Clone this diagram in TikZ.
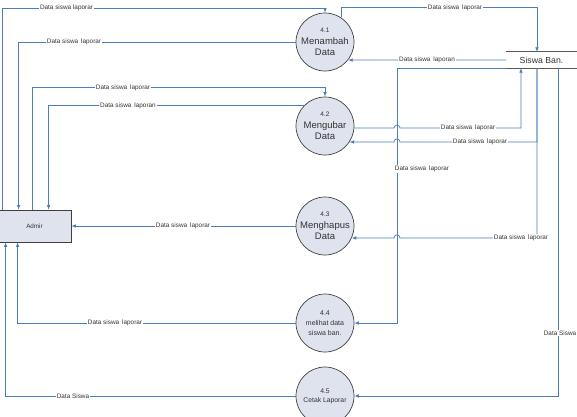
\documentclass[tikz,border=0pt]{standalone}
\usepackage{fontspec}
\setmainfont{Liberation Sans}
\usetikzlibrary{arrows.meta,calc}
\definecolor{lineblue}{HTML}{4A7EBB}
\definecolor{bubble}{HTML}{DFE3EE}
\definecolor{edgegray}{HTML}{404040}
\definecolor{txt}{HTML}{333333}
\definecolor{storegray}{HTML}{595959}
\newcommand{\numf}{\fontsize{6.5}{8}\selectfont}
\newcommand{\bigf}{\fontsize{9.5}{11.5}\selectfont}
\newcommand{\smallf}{\fontsize{7}{10}\selectfont}
\begin{document}
\begin{tikzpicture}[x=1pt,y=-1pt,
  flow/.style={draw=lineblue, line width=0.7pt, -{Latex[length=4.5pt,width=3.6pt]}},
  proc/.style={circle, draw=edgegray, line width=0.7pt, fill=bubble, minimum size=58pt,
    inner sep=0pt, align=center, text=txt, font=\bigf},
  entity/.style={rectangle, draw=edgegray, line width=0.8pt, fill=bubble, minimum width=73pt,
    minimum height=32pt, inner sep=0pt, text=txt, font=\fontsize{6.3}{7}\selectfont},
  storebox/.style={rectangle, minimum width=71pt, minimum height=16pt, inner sep=0pt,
    text=txt, font=\fontsize{8.7}{10}\selectfont},
  storeline/.style={draw=storegray, line width=1.3pt},
  lbl/.style={fill=white, inner sep=0.7pt, text=txt, font=\fontsize{6.4}{7}\selectfont}
]
\useasboundingbox (0,0) rectangle (577,416);
\clip (0,0) rectangle (577,416);
\fill[white] (0,0) rectangle (577,416);

% nodes
\node[entity] (admin) at (34.5,226) {Admir};
\node[proc] (c41) at (325,42) {{\numf 4.1}\\Menambah\\Data};
\node[proc] (c42) at (325,126) {{\numf 4.2}\\Mengubar\\Data};
\node[proc] (c43) at (325,226) {{\numf 4.3}\\Menghapus\\Data};
\node[proc, font=\smallf] (c44) at (325,323) {4.4\\melihat data\\siswa ban.};
\node[proc, font=\fontsize{6.8}{9}\selectfont] (c45) at (325,396) {4.5\\Cetak Laporar};
\node[storebox] (store) at (541.5,60) {Siswa Ban.};
\draw[storeline] (store.north west) -- (store.north east);
\draw[storeline] (store.south west) -- (store.south east);
\coordinate (hop) at (397,0);

% connectors
\draw[flow] ([xshift=5pt]admin.north west) |- ([yshift=4pt]c41.north) -- (c41.north);
\draw[flow] (c41.west) -| ([xshift=21pt]admin.north west);
\draw[flow] ([xshift=35pt]admin.north west) |- ([yshift=9pt]c42.north) -- (c42.north);
\draw[flow] (c42.136) -| ([xshift=51pt]admin.north west);
\draw[flow] (c41.57) |- ([xshift=-4.5pt,yshift=44pt]store.north) -- ([xshift=-4.5pt]store.north);
\draw[flow] (store.west) -- (c41.-38);
\draw[flow] (c42.-4) -- ($(c42.-4 -| hop)+(-3,0)$) arc[start angle=180,end angle=0,radius=3pt]
  -| ([xshift=-20.5pt]store.south);
\draw[flow] (store.south west) -| ([xshift=43pt]c44.east) -- (c44.east);
\draw[flow] ([xshift=-4.5pt]store.south) |- ($(c42.-33.5 -| hop)+(3,0)$)
  arc[start angle=0,end angle=180,radius=3pt] -- (c42.-33.5);
\draw[flow] ([xshift=-4.5pt]store.south) |- ($(c43.-24.5 -| hop)+(3,0)$)
  arc[start angle=0,end angle=180,radius=3pt] -- (c43.-24.5);
\draw[flow] ([xshift=16.5pt]store.south) |- (c45.east);
\draw[flow] (c43.west) -- (admin.east);
\draw[flow] (c44.west) -| ([xshift=20pt]admin.south west);
\draw[flow] (c45.west) -| ([xshift=8pt]admin.south west);

% labels
\node[lbl] (l1) at (66.5,8) {Data siswa laporar};
\node[lbl] (l2) at (74,42) {Data siswa\hspace{1.2pt} laporar};
\node[lbl] (l3) at (123,88) {Data siswa\hspace{1.2pt} laporar};
\node[lbl] (l4) at (128,106) {Data siswa\hspace{1.2pt} laporan};
\node[lbl] (l5) at (455,8) {Data siswa\hspace{1.2pt} laporar};
\node[lbl] (l6) at (427,60) {Data siswa\hspace{1.2pt} laporan};
\node[lbl] (l7) at (468,128) {Data siswa\hspace{1.2pt} laporar};
\node[lbl] (l8) at (480,142) {Data siswa\hspace{1.2pt} laporar};
\node[lbl] (l9) at (422,169) {Data siswa\hspace{1.2pt} laporar};
\node[lbl] (l10) at (521,238) {Data siswa\hspace{1.2pt} laporar};
\node[lbl] (l11) at (183,226) {Data siswa\hspace{1.2pt} laporar};
\node[lbl] (l12) at (115,323) {Data siswa\hspace{1.2pt} laporar};
\node[lbl] (l13) at (73,396) {Data Siswa};
\node[lbl] (l14) at (560,333) {Data Siswa};
\end{tikzpicture}
\end{document}
